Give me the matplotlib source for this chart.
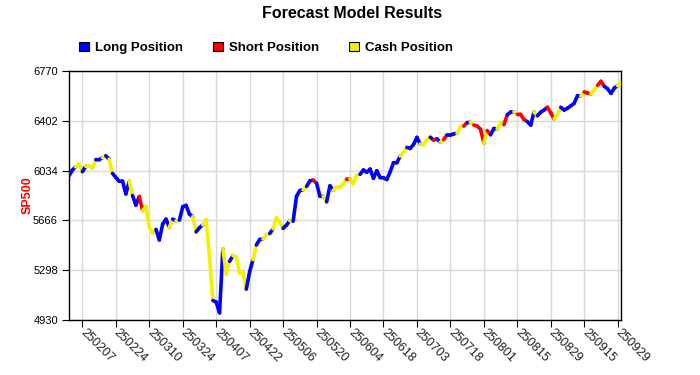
import matplotlib
matplotlib.use("Agg")
import matplotlib.pyplot as plt
import numpy as np
from matplotlib.collections import LineCollection
from matplotlib.patches import Patch

plt.rcParams['font.family'] = ['Liberation Sans', 'DejaVu Sans']

# daily SP500 closes, 2025-02-03 .. 2025-09-30
close = [
    5994.57, 6037.88, 6061.48, 6083.57, 6025.99, 6066.44, 6068.50, 6051.97, 6115.07, 6114.63,
    6129.58, 6144.15, 6117.52, 6013.13, 5983.25, 5955.25, 5956.06, 5861.57, 5954.50, 5849.72,
    5778.15, 5842.63, 5738.52, 5770.20, 5614.56, 5572.07, 5599.30, 5521.52, 5638.94, 5675.12,
    5614.66, 5675.29, 5662.89, 5667.56, 5767.57, 5776.65, 5712.20, 5693.31, 5580.94, 5611.85,
    5633.07, 5670.97, 5396.52, 5074.08, 5062.25, 4982.77, 5456.90, 5268.05, 5363.36, 5405.97,
    5396.63, 5275.70, 5282.70, 5158.20, 5287.76, 5375.86, 5484.77, 5525.21, 5528.75, 5560.83,
    5569.06, 5604.14, 5686.67, 5650.38, 5606.91, 5631.28, 5663.94, 5659.91, 5844.19, 5886.55,
    5892.58, 5916.93, 5958.38, 5963.60, 5940.46, 5844.61, 5842.01, 5802.82, 5921.54, 5888.55,
    5912.17, 5911.69, 5935.94, 5970.37, 5970.81, 5939.30, 6000.36, 6005.88, 6038.81, 6022.24,
    6045.26, 5976.97, 6033.11, 5982.72, 5980.87, 5967.84, 6025.17, 6092.18, 6092.16, 6141.02,
    6173.07, 6204.95, 6198.01, 6227.42, 6279.35, 6229.98, 6225.52, 6263.26, 6280.46, 6259.75,
    6268.56, 6243.76, 6263.70, 6297.36, 6296.79, 6305.60, 6309.62, 6358.91, 6363.35, 6388.64,
    6389.77, 6370.86, 6362.90, 6339.39, 6238.01, 6329.94, 6299.19, 6345.06, 6340.00, 6389.45,
    6373.45, 6445.76, 6466.58, 6468.54, 6449.80, 6449.15, 6411.37, 6395.78, 6370.17, 6466.91,
    6439.32, 6465.94, 6481.40, 6501.86, 6460.26, 6415.54, 6448.26, 6502.08, 6481.50, 6495.15,
    6512.61, 6532.04, 6587.47, 6584.29, 6615.28, 6606.76, 6600.35, 6631.96, 6664.36, 6693.75,
    6656.92, 6637.97, 6604.72, 6643.70, 6661.21, 6688.46,
]

# model position per day (L = long, S = short, C = cash)
position = list(
    "L"
    "LLCCLCCCLL" "CLCLLLLLCL" "LSCCCCLLLL" "CLCLLLLCLL"
    "CCCLLLCCLC" "CCCLLCLLCC" "LCCCLLCLLL" "CLLSLLCLLC"
    "CCCSCCCLLL" "LLLLLLLLLC" "CLLLLCCCLS" "LCSLLLCCSL"
    "CSSSCSLLCC" "SLLCSSSLLC" "LLLSSCCLLL" "LLLCSSCCSS"
    "LLLLC"
)

tick_labels = ["250207", "250224", "250310", "250324", "250407", "250422",
               "250506", "250520", "250604", "250618", "250703", "250718",
               "250801", "250815", "250829", "250915", "250929"]

colors = {"L": "#0000ff", "S": "#ff0000", "C": "#f2f200"}
names = {"L": "Long Position", "S": "Short Position", "C": "Cash Position"}

x = np.arange(len(close))
y = np.array(close)

fig = plt.figure(figsize=(7, 3.75), dpi=100)
ax = fig.add_axes([69 / 700, 55 / 375, 552 / 700, 249 / 375])

pts = np.column_stack([x, y])
segs = np.stack([pts[:-1], pts[1:]], axis=1)
lc = LineCollection(segs, colors=[colors[p] for p in position[1:]],
                    linewidths=2.6, capstyle="round", zorder=3)
ax.add_collection(lc)

ax.set_xlim(0, len(close) - 1)
ax.set_ylim(4930, 6770)
ax.set_yticks(np.linspace(4930, 6770, 6))
ax.set_yticklabels([f"{v:.0f}" for v in np.linspace(4930, 6770, 6)])
ax.set_xticks(np.arange(4, len(close), 10))
ax.set_xticklabels(tick_labels, rotation=-45, ha="left", va="center",
                   rotation_mode="anchor")

ax.grid(color="#d9d9d9", lw=1)
ax.set_axisbelow(True)
for s in ax.spines.values():
    s.set_color("black")
    s.set_linewidth(1)
ax.tick_params(axis="x", direction="out", length=5, labelsize=9,
               labelcolor="#222222", pad=3)
ax.tick_params(axis="y", direction="out", length=5, labelsize=8, pad=3)

fig.text(0.503, 1 - 13 / 375, "Forecast Model Results", ha="center",
         va="center", fontsize=11.5, weight="bold")
fig.text(28 / 700, 1 - 195 / 375, "SP500", rotation=90, color="red",
         weight="bold", fontsize=9, ha="center", va="center")

handles = [Patch(facecolor=colors[k], edgecolor="black", lw=0.8) for k in "LSC"]
fig.legend(handles, [names[k] for k in "LSC"], loc="center left",
           bbox_to_anchor=(79 / 700, 1 - 48 / 375), ncol=3, frameon=False,
           prop={"size": 9.5, "weight": "bold"}, handlelength=0.75,
           handleheight=0.75, handletextpad=0.45, columnspacing=2.3,
           borderaxespad=0, borderpad=0)

fig.savefig("out.png", dpi=100)
